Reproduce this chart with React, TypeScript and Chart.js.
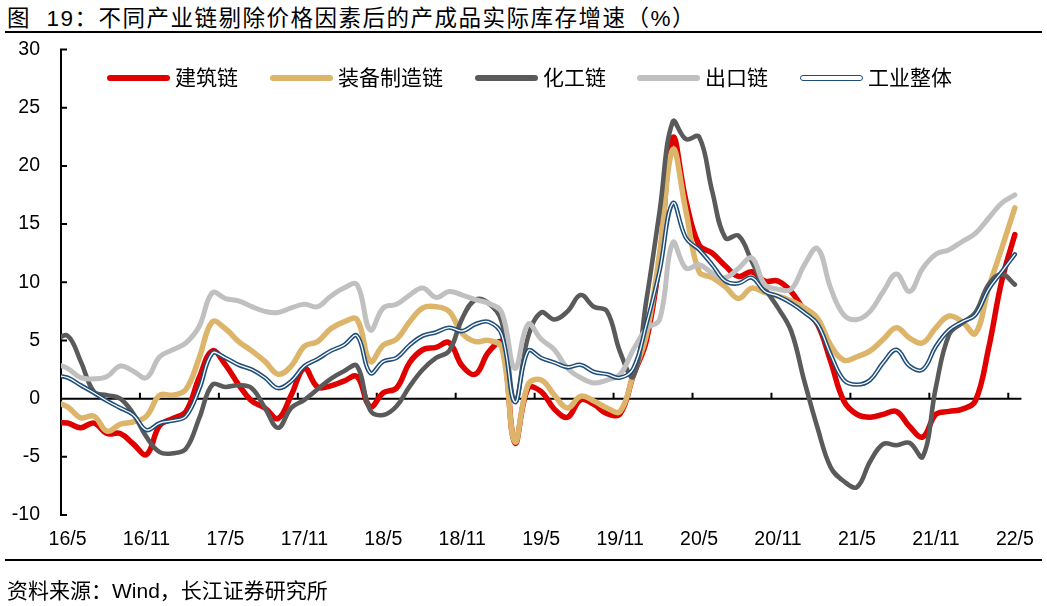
import React, { useEffect, useRef } from 'react';
import { Chart, registerables } from 'chart.js';

Chart.register(...registerables);

// Monthly categories (16/4 is only partly visible: clipped at the y axis)
const categories = [
  '16/4', '16/5', '16/6', '16/7', '16/8', '16/9', '16/10', '16/11', '16/12',
  '17/1', '17/2', '17/3', '17/4', '17/5', '17/6', '17/7', '17/8', '17/9', '17/10', '17/11', '17/12',
  '18/1', '18/2', '18/3', '18/4', '18/5', '18/6', '18/7', '18/8', '18/9', '18/10', '18/11', '18/12',
  '19/1', '19/2', '19/3', '19/4', '19/5', '19/6', '19/7', '19/8', '19/9', '19/10', '19/11', '19/12',
  '20/1', '20/2', '20/3', '20/4', '20/5', '20/6', '20/7', '20/8', '20/9', '20/10', '20/11', '20/12',
  '21/1', '21/2', '21/3', '21/4', '21/5', '21/6', '21/7', '21/8', '21/9', '21/10', '21/11', '21/12',
  '22/1', '22/2', '22/3', '22/4', '22/5',
];

const tickLabels = ['16/5', '16/11', '17/5', '17/11', '18/5', '18/11', '19/5', '19/11', '20/5', '20/11', '21/5', '21/11', '22/5'];
const yTicks = [-10, -5, 0, 5, 10, 15, 20, 25, 30];

const seriesNames = ['建筑链', '装备制造链', '化工链', '出口链', '工业整体'];

// 建筑链
const construction = [
  -2.1,
  -2.1, -2.5, -2.1, -3.0, -3.0, -3.9, -4.8, -2.3, -1.7, -1.1,
  1.8, 4.1, 2.9, 1.2, -0.2, -0.8, -1.7, 0.3, 2.6, 1.0,
  1.1, 1.5, 1.9, -0.7, 0.5, 0.9, 3.1, 4.2, 4.4, 4.8,
  2.8, 2.1, 4.0, 4.8, -3.8, 0.9, 0.6, -0.9, -1.6, -0.1,
  -0.5, -1.3, -1.3, 2.0, 5.0, 12.0, 22.4, 17.0, 13.2, 12.5,
  11.4, 10.5, 10.9, 10.1, 10.1, 9.2, 7.6, 6.4, 3.2, -0.2,
  -1.35, -1.6, -1.35, -1.1, -2.4, -3.3, -1.35, -1.1, -0.9, -0.2,
  4.3, 10.1, 14.1,
];

// 装备制造链
const equipment = [
  -0.3,
  -0.7, -1.65, -1.5, -2.8, -2.2, -2.0, -1.5, 0.3, 0.3, 0.8,
  3.5, 6.6, 6.0, 4.9, 4.1, 3.2, 2.1, 2.8, 4.5, 4.9,
  6.0, 6.6, 6.8, 3.2, 4.6, 5.1, 6.6, 7.8, 7.9, 7.5,
  5.6, 4.9, 5.0, 4.4, -3.7, 1.2, 1.6, 0.3, -0.8, 0.2,
  -0.2, -0.8, -1.1, 2.1, 5.5, 12.5, 21.4, 16.1, 10.9, 10.4,
  9.6, 8.6, 9.5, 9.1, 8.8, 8.4, 7.8, 6.9, 4.6, 3.3,
  3.6, 4.1, 5.1, 6.1, 5.2, 4.8, 6.1, 7.1, 6.6, 5.6,
  9.5, 12.9, 16.4,
];

// 化工链
const chemical = [
  5.0,
  5.4, 3.2, 0.6, 0.3, 0.0, -1.3, -3.3, -4.6, -4.7, -4.3,
  -1.7, 1.2, 1.0, 1.15, 0.9, -0.8, -2.5, -0.8, -0.1, 0.8,
  1.7, 2.35, 2.8, -1.0, -1.4, -0.65, 1.05, 2.5, 3.5, 4.1,
  6.9, 8.5, 8.2, 6.6, -0.2, 5.3, 7.4, 6.8, 7.5, 8.9,
  7.9, 7.5, 4.0, 1.9, 8.5, 16.1, 23.8, 22.3, 22.5, 17.8,
  13.8, 14.0, 11.8, 9.5, 7.8, 5.8, 1.5, -2.5, -5.9, -7.1,
  -7.6, -5.4, -3.9, -4.0, -3.8, -5.0, 1.0, 5.5, 6.5, 7.4,
  9.8, 10.7, 9.8,
];

// 出口链
const exportChain = [
  3.0,
  2.6, 1.8, 1.7, 1.9, 2.8, 2.35, 1.8, 3.6, 4.2, 4.8,
  6.2, 9.1, 8.6, 8.4, 7.9, 7.5, 7.4, 7.8, 8.1, 7.9,
  8.8, 9.5, 9.8, 5.9, 7.8, 8.1, 8.9, 9.5, 8.7, 9.2,
  8.9, 8.5, 8.2, 7.4, 2.6, 6.4, 5.1, 4.2, 2.6, 1.8,
  1.35, 1.6, 2.1, 4.2, 6.0, 6.8, 13.4, 11.2, 11.5, 10.8,
  10.4, 11.2, 12.1, 9.8, 9.4, 9.4, 11.5, 12.9, 9.5, 7.2,
  6.8, 7.5, 9.2, 10.7, 9.2, 11.2, 12.4, 12.8, 13.5, 14.2,
  15.5, 16.8, 17.5,
];

// 工业整体
const industry = [
  2.0,
  1.8, 1.15, 0.5, -0.2, -0.8, -1.4, -2.7, -2.1, -1.9, -1.5,
  0.8, 3.9, 3.5, 2.9, 2.5, 1.8, 0.9, 1.5, 2.8, 3.4,
  4.1, 4.6, 5.4, 2.2, 3.2, 3.5, 4.6, 5.4, 5.7, 6.1,
  5.8, 6.4, 6.6, 5.5, -0.3, 4.1, 3.5, 3.1, 2.7, 2.9,
  2.3, 2.1, 1.8, 2.6, 6.4, 11.0, 16.8, 13.8, 12.8, 11.5,
  10.1, 9.9, 10.4, 9.2, 8.8, 8.2, 7.4, 6.4, 3.8, 1.6,
  1.2, 1.6, 3.1, 4.2, 2.8, 2.5, 4.5, 5.9, 6.6, 7.2,
  9.4, 10.9, 12.4,
];

const RED = '#E00000';
const TAN = '#DDB56A';
const DARK = '#5A5A5A';
const LIGHT = '#C0C0C0';
const BLUE = '#1F4E79';

const LATIN = '"Liberation Sans", Arial, "Noto Sans CJK SC", sans-serif';

const axisPlugin = {
  id: 'refAxes',
  beforeDatasetsDraw(chart: any) {
    const { ctx, chartArea: a, scales } = chart;
    const x = scales.x;
    const y = scales.y;
    ctx.save();
    ctx.strokeStyle = '#000';
    ctx.lineWidth = 2;
    ctx.lineCap = 'butt';
    ctx.beginPath();
    const yTop = y.getPixelForValue(yTicks[yTicks.length - 1]);
    const yBot = y.getPixelForValue(yTicks[0]);
    ctx.moveTo(a.left, yTop - 1);
    ctx.lineTo(a.left, yBot + 1);
    for (const v of yTicks) {
      const py = y.getPixelForValue(v);
      ctx.moveTo(a.left, py);
      ctx.lineTo(a.left + 6, py);
    }
    const y0 = y.getPixelForValue(0);
    ctx.moveTo(a.left, y0);
    ctx.lineTo(a.right, y0);
    const i0 = categories.indexOf(tickLabels[0]);
    const half = (x.getPixelForValue(i0 + 1) - x.getPixelForValue(i0)) / 2;
    for (const lbl of tickLabels) {
      const idx = categories.indexOf(lbl);
      const px = x.getPixelForValue(idx) - half;
      if (px > a.left + 2) {
        ctx.moveTo(px, y0);
        ctx.lineTo(px, y0 - 6);
      }
    }
    ctx.stroke();
    ctx.restore();
  },
};

const legendItems = [
  { name: seriesNames[0], color: RED, left: 107, double: false },
  { name: seriesNames[1], color: TAN, left: 270, double: false },
  { name: seriesNames[2], color: DARK, left: 475, double: false },
  { name: seriesNames[3], color: LIGHT, left: 637, double: false },
  { name: seriesNames[4], color: BLUE, left: 800, double: true },
];

export default function App() {
  const canvasRef = useRef<HTMLCanvasElement | null>(null);

  useEffect(() => {
    if (!canvasRef.current) return;
    const mk = (label: string, data: number[], color: string, width: number, order: number) => ({
      label,
      data,
      borderColor: color,
      backgroundColor: color,
      borderWidth: width,
      pointRadius: 0,
      pointHoverRadius: 0,
      tension: 0.4,
      fill: false,
      clip: 0,
      order,
      borderCapStyle: 'round' as const,
      borderJoinStyle: 'round' as const,
    });
    const chart = new Chart(canvasRef.current, {
      type: 'line',
      data: {
        labels: categories,
        datasets: [
          mk(seriesNames[0], construction, RED, 5.5, 6),
          mk(seriesNames[1], equipment, TAN, 5.5, 5),
          mk(seriesNames[2], chemical, DARK, 4.6, 4),
          mk(seriesNames[3], exportChain, LIGHT, 5, 3),
          mk(seriesNames[4], industry, BLUE, 4.4, 2),
          mk(seriesNames[4] + '_inner', industry, '#FFFFFF', 1.3, 1),
        ],
      },
      options: {
        animation: false,
        responsive: true,
        maintainAspectRatio: false,
        events: [],
        layout: { padding: { left: 0, right: 25, top: 49.5, bottom: 51 } },
        plugins: {
          legend: { display: false },
          tooltip: { enabled: false },
          title: { display: false },
        },
        scales: {
          x: {
            type: 'category',
            min: tickLabels[0],
            max: tickLabels[tickLabels.length - 1],
            offset: true,
            grid: { display: false, drawTicks: false },
            border: { display: false },
            ticks: {
              autoSkip: false,
              maxRotation: 0,
              minRotation: 0,
              padding: 13,
              color: '#000',
              font: { family: LATIN, size: 19.5 },
              callback: function (this: any, value: any) {
                const l = this.getLabelForValue(value);
                return tickLabels.includes(l) ? l : null;
              },
            },
            afterFit: (s: any) => {
              s.height = 40;
            },
          },
          y: {
            min: yTicks[0],
            max: yTicks[yTicks.length - 1],
            grid: { display: false, drawTicks: false },
            border: { display: false },
            ticks: {
              stepSize: 5,
              padding: 21,
              color: '#000',
              font: { family: LATIN, size: 19.5 },
            },
            afterFit: (s: any) => {
              s.width = 61;
            },
          },
        },
      },
      plugins: [axisPlugin],
    } as any);
    return () => chart.destroy();
  }, []);

  return (
    <div
      style={{
        position: 'absolute',
        left: 0,
        top: 0,
        width: 1047,
        height: 606,
        background: '#fff',
        overflow: 'hidden',
        fontFamily: LATIN,
        color: '#000',
      }}
    >
      <div
        style={{
          position: 'absolute',
          left: 7,
          top: 1,
          height: 35,
          lineHeight: '35px',
          fontSize: 22.5,
          letterSpacing: '1.5px',
          whiteSpace: 'pre',
          ...({ textSpacingTrim: 'space-all' } as any),
        }}
      >
        {'图  19：不同产业链剔除价格因素后的产成品实际库存增速（%）'}
      </div>
      <div style={{ position: 'absolute', left: 5, top: 31, width: 1037, height: 2, background: '#000' }} />
      <div style={{ position: 'absolute', left: 0, top: 0, width: 1047, height: 606 }}>
        <canvas ref={canvasRef} />
      </div>
      {legendItems.map((it) => (
        <div
          key={it.name}
          style={{
            position: 'absolute',
            left: it.left,
            top: 66,
            height: 24,
            display: 'flex',
            alignItems: 'center',
            whiteSpace: 'nowrap',
          }}
        >
          <div
            style={{
              width: 63,
              height: it.double ? 5.5 : 6,
              borderRadius: 3,
              boxSizing: 'border-box',
              background: it.double ? '#fff' : it.color,
              border: it.double ? `1.9px solid ${it.color}` : 'none',
              marginRight: 5,
            }}
          />
          <span style={{ fontSize: 21, lineHeight: '24px' }}>{it.name}</span>
        </div>
      ))}
      <div style={{ position: 'absolute', left: 5, top: 559, width: 1037, height: 2, background: '#000' }} />
      <div
        style={{
          position: 'absolute',
          left: 7,
          top: 576,
          height: 30,
          lineHeight: '30px',
          fontSize: 21,
          whiteSpace: 'pre',
          ...({ textSpacingTrim: 'space-all' } as any),
        }}
      >
        {'资料来源：Wind，长江证券研究所'}
      </div>
    </div>
  );
}
